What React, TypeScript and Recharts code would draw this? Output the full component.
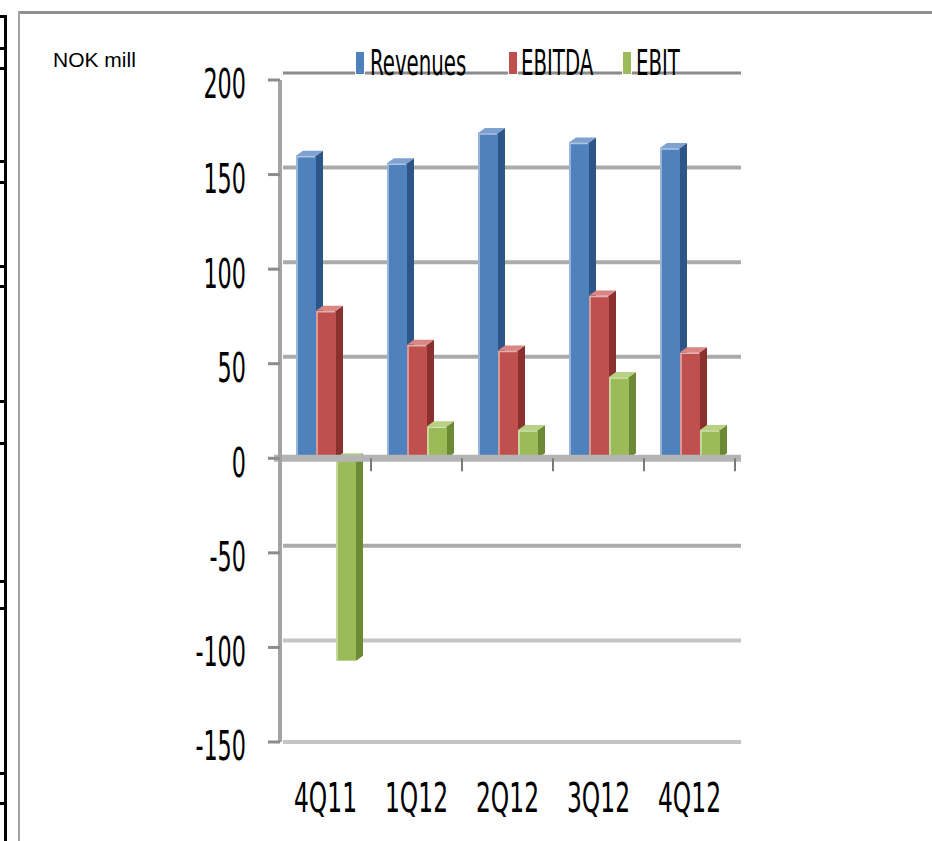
import React from "react";
import {
  BarChart,
  Bar,
  XAxis,
  YAxis,
  CartesianGrid,
  ReferenceLine,
} from "recharts";

const quarters = ["4Q11", "1Q12", "2Q12", "3Q12", "4Q12"];
const revenues = [160, 156, 172, 167, 164];
const ebitda = [78, 60, 57, 86, 56];
const ebit = [-107, 17, 15, 43, 15];
const yTicks = [-150, -100, -50, 0, 50, 100, 150, 200];

const data = quarters.map((q, i) => ({
  quarter: q,
  revenues: revenues[i],
  ebitda: ebitda[i],
  ebit: ebit[i],
}));

const palette = {
  revenues: { front: "#4F81BD", side: "#2E5587", top: "#7EA1CF", name: "Revenues" },
  ebitda: { front: "#C0504D", side: "#8A302E", top: "#D98684", name: "EBITDA" },
  ebit: { front: "#9BBB59", side: "#6C8A35", top: "#B9D185", name: "EBIT" },
};

const NARROW = "'DejaVu Sans Condensed', 'DejaVu Sans', sans-serif";
const DEPTH = 7;
const RISE = 5;
const WALL_SHIFT = 7; // back wall gridlines sit a little higher than the front scale

// rows of the table peeking in at the left edge
const tableRuleY = [15, 47, 67, 160, 181, 265, 285, 400, 442, 580, 607, 772, 802];

const Bar3D = (props: any) => {
  const { x, y, width, height, colors } = props;
  if (x == null || y == null || !width) return null;
  const top = Math.min(y, y + height);
  const h = Math.abs(height);
  const r = x + width;
  return (
    <g>
      <polygon
        points={`${r},${top} ${r + DEPTH},${top - RISE} ${r + DEPTH},${top + h - RISE} ${r},${top + h}`}
        fill={colors.side}
      />
      <polygon
        points={`${x},${top} ${x + DEPTH},${top - RISE} ${r + DEPTH},${top - RISE} ${r},${top}`}
        fill={colors.top}
      />
      <rect x={x} y={top} width={width} height={h} fill={colors.front} />
      <polyline
        points={`${x + 1},${top + h} ${x + 1},${top + 1} ${r - 1},${top + 1}`}
        fill="none"
        stroke="rgba(255,255,255,0.55)"
        strokeWidth={1.5}
      />
    </g>
  );
};

const YTick = ({ x, y, payload }: any) => (
  <text
    transform={`translate(${x},${y + 4}) scale(0.62,1)`}
    textAnchor="end"
    dy="0.36em"
    fontFamily={NARROW}
    fontSize={40}
    fill="#000"
  >
    {payload.value}
  </text>
);

const XTick = ({ x, y, payload }: any) => (
  <text
    transform={`translate(${x},${y}) scale(0.65,1)`}
    textAnchor="middle"
    dy={62}
    fontFamily={NARROW}
    fontSize={40}
    fill="#000"
  >
    {payload.value}
  </text>
);

const GridLine = (props: any) => {
  const { x1, x2, y1, index, offset } = props;
  const bottom = offset ? offset.top + offset.height : 742;
  const isBottom = Math.abs(y1 - bottom) < 2;
  const isZero = Math.abs(y1 - 458) < 3;
  const yy = isBottom || isZero ? y1 : y1 - WALL_SHIFT;
  const light = y1 > 600;
  return (
    <line
      key={`grid-${index}`}
      x1={x1 + 3}
      x2={x2 + 6}
      y1={yy}
      y2={yy}
      stroke={y1 < 100 ? "#8C8C8C" : light ? "#C4C4C4" : "#ABABAB"}
      strokeWidth={y1 < 100 ? 3 : 4}
    />
  );
};

const Floor = (props: any) => {
  const { x1, x2, y1 } = props;
  if (x1 == null) return null;
  const step = (x2 - x1) / quarters.length;
  return (
    <g>
      <line x1={x1 - 6} x2={x2 + 6} y1={y1} y2={y1} stroke="#B4B4B4" strokeWidth={7} />
      {quarters.map((q, i) => (
        <line
          key={q}
          x1={x1 + step * (i + 1)}
          x2={x1 + step * (i + 1)}
          y1={y1}
          y2={y1 + 13}
          stroke="#7A7A7A"
          strokeWidth={2}
        />
      ))}
    </g>
  );
};

export default function App() {
  const legendItems = [
    { key: "revenues", markX: 356, textX: 370 },
    { key: "ebitda", markX: 509, textX: 521 },
    { key: "ebit", markX: 623, textX: 636 },
  ] as const;

  return (
    <div
      style={{
        position: "absolute",
        left: 0,
        top: 0,
        width: 932,
        height: 841,
        background: "#fff",
        overflow: "hidden",
      }}
    >
      {/* left table edge */}
      <div style={{ position: "absolute", left: 4, top: 15, width: 3, height: 826, background: "#000" }} />
      {tableRuleY.map((ty) => (
        <div key={ty} style={{ position: "absolute", left: 0, top: ty, width: 6, height: 3, background: "#000" }} />
      ))}
      {/* chart frame */}
      <div style={{ position: "absolute", left: 18, top: 11, width: 914, height: 3, background: "#8F8F8F" }} />
      <div style={{ position: "absolute", left: 18, top: 11, width: 2, height: 830, background: "#A3A3A3" }} />

      <div
        style={{
          position: "absolute",
          left: 53,
          top: 48,
          fontFamily: "'Liberation Sans', Arial, sans-serif",
          fontSize: 21,
          color: "#000",
        }}
      >
        NOK mill
      </div>

      <div style={{ position: "absolute", left: 0, top: 0 }}>
        <BarChart
          width={932}
          height={841}
          data={data}
          margin={{ top: 80, right: 197, bottom: 39, left: 0 }}
          barGap={0}
          barSize={20}
        >
          <CartesianGrid vertical={false} horizontal={GridLine} />
          <XAxis
            dataKey="quarter"
            axisLine={false}
            tickLine={false}
            height={60}
            tick={XTick}
            interval={0}
          />
          <YAxis
            width={280}
            domain={[-150, 200]}
            ticks={yTicks}
            allowDataOverflow
            axisLine={{ stroke: "#A3A3A3", strokeWidth: 4 }}
            tickLine={{ stroke: "#8C8C8C", strokeWidth: 3 }}
            tickSize={12}
            tickMargin={22}
            tick={YTick}
          />
          <ReferenceLine y={0} shape={Floor} />
          {(["revenues", "ebitda", "ebit"] as const).map((k) => (
            <Bar
              key={k}
              dataKey={k}
              name={palette[k].name}
              fill={palette[k].front}
              isAnimationActive={false}
              shape={(p: any) => <Bar3D {...p} colors={palette[k]} />}
            />
          ))}
        </BarChart>
      </div>

      {/* legend */}
      {legendItems.map((it) => (
        <React.Fragment key={it.key}>
          <div
            style={{
              position: "absolute",
              left: it.markX,
              top: 52,
              width: 8,
              height: 22,
              background: palette[it.key].front,
              outline: "1px solid #fff",
            }}
          />
          <div
            style={{
              position: "absolute",
              left: it.textX,
              top: 43,
              fontFamily: NARROW,
              fontSize: 36,
              lineHeight: "40px",
              color: "#000",
              transform: "scaleX(0.61)",
              transformOrigin: "left center",
              whiteSpace: "nowrap",
            }}
          >
            {palette[it.key].name}
          </div>
        </React.Fragment>
      ))}
    </div>
  );
}
